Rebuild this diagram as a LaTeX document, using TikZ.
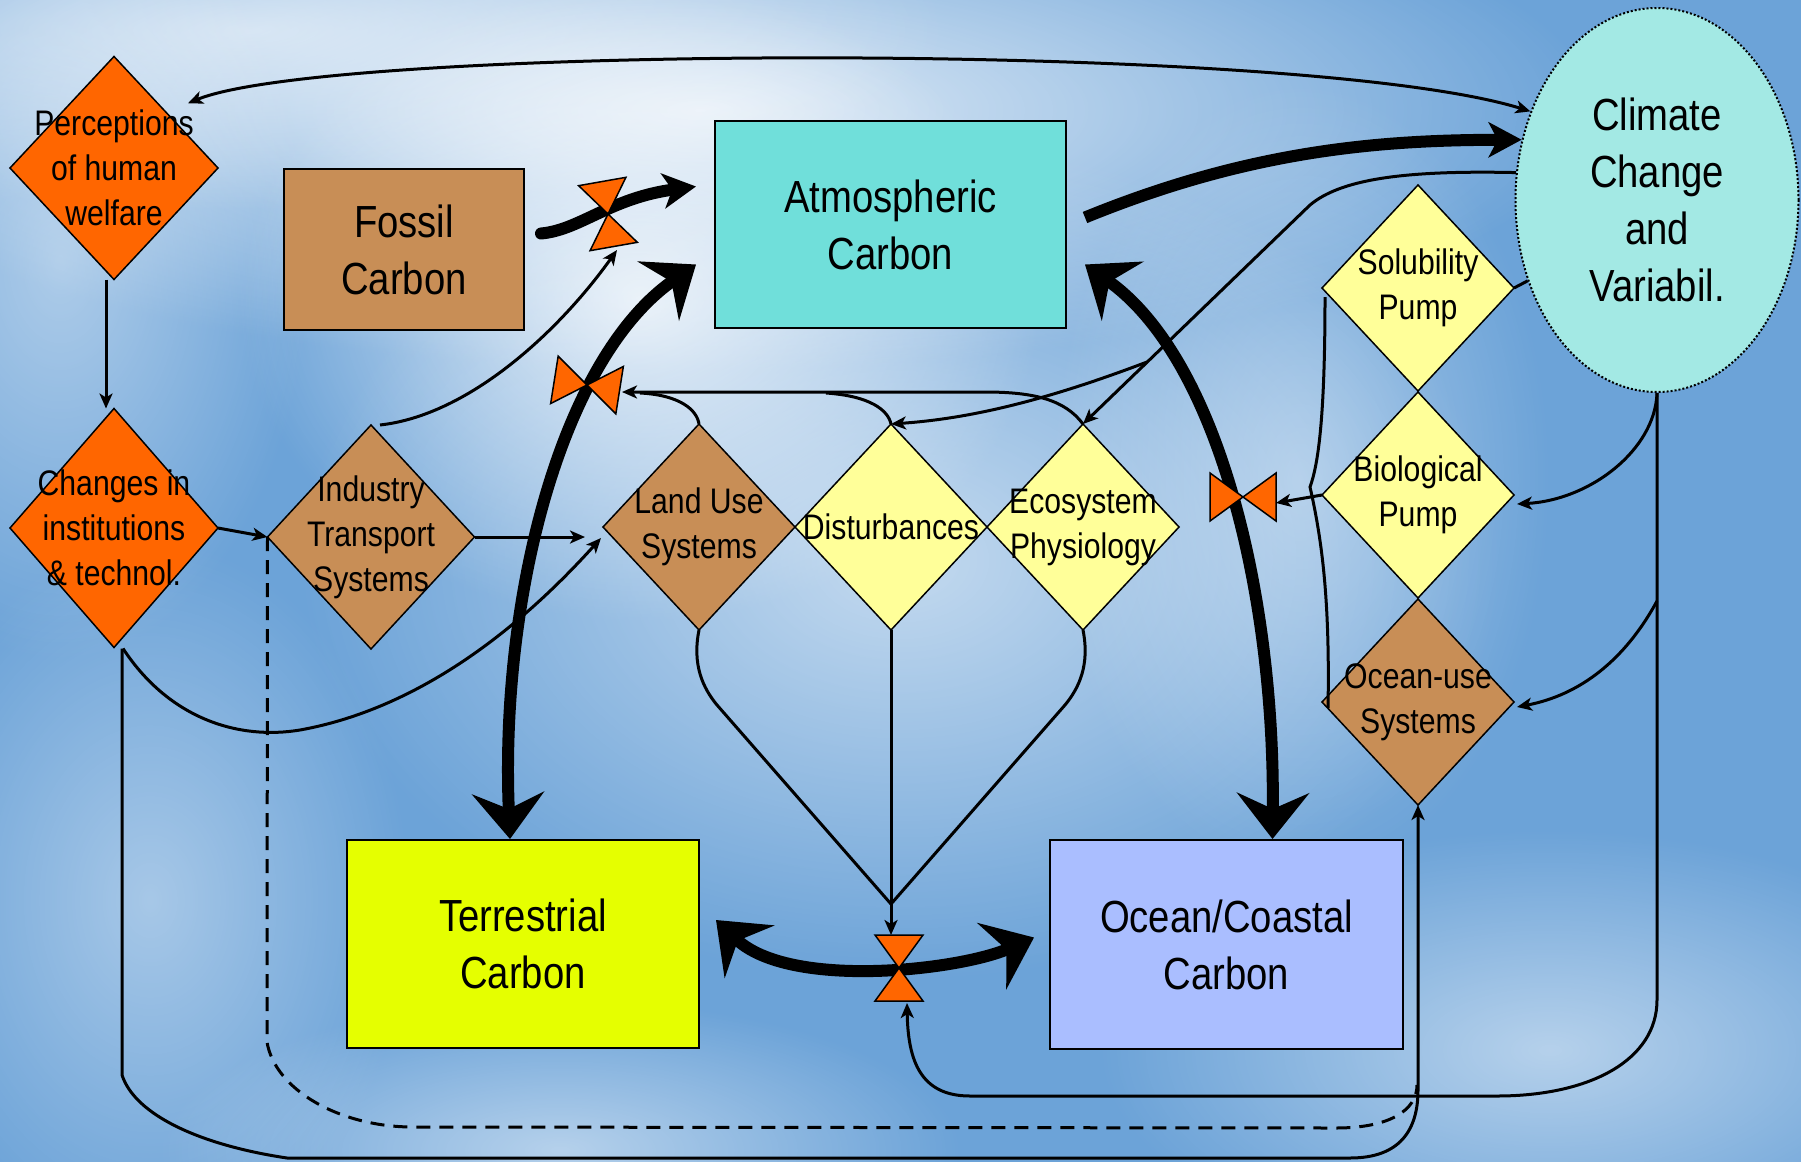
\documentclass[tikz,border=0pt]{standalone}
\usepackage{fontspec}
\setmainfont{Liberation Sans}[FakeStretch=0.85]
\usetikzlibrary{arrows.meta, shapes.geometric, calc, fadings}

\definecolor{sky}{RGB}{108,163,216}
\definecolor{orng}{RGB}{255,102,0}
\definecolor{brownish}{RGB}{200,142,86}
\definecolor{lemon}{RGB}{255,255,153}
\definecolor{atmcol}{RGB}{112,223,218}
\definecolor{climcol}{RGB}{163,233,228}
\definecolor{tercol}{RGB}{229,255,0}
\definecolor{ocecol}{RGB}{170,190,255}

\newcommand\boxfont{\fontsize{45}{57}\selectfont}
\newcommand\diafont{\fontsize{35.5}{45}\selectfont}

\tikzfading[name=puff, inner color=transparent!0, outer color=transparent!100]

\tikzset{
  tipS/.tip={Stealth[length=15pt, width=13pt, inset=4pt]},
  tipM/.tip={Stealth[length=33pt, width=35pt, inset=9pt]},
  tipL/.tip={Stealth[length=46pt, width=72pt, inset=16pt]},
  valve/.pic={
    \draw[valvefill] (0,0) -- (-24,-33) -- (24,-33) -- cycle;
    \draw[valvefill] (0,0) -- (-24,33) -- (24,33) -- cycle;
  }
}

\begin{document}
\begin{tikzpicture}[x=1pt, y=-1pt,
  box/.style={rectangle, draw, line width=2pt, inner sep=0pt, align=center, font=\boxfont},
  dia/.style={diamond, draw, line width=1.5pt, inner sep=0pt, outer sep=0pt, minimum width=192pt, minimum height=206pt},
  dlab/.style={align=center, font=\diafont, inner sep=0pt},
  valvefill/.style={fill=orng, draw=black, line width=1.5pt},
  wire/.style={line width=3pt},
  link/.style={line width=3pt, -{tipS}},
  fat/.style={line width=12pt}
]
\useasboundingbox (0,0) rectangle (1801,1162);

% sky
\begin{scope}
\clip (0,0) rectangle (1801,1162);
\fill[sky] (0,0) rectangle (1801,1162);
\fill[white, path fading=puff, fill opacity=.8] (700,110) ellipse (900 and 260);
\fill[white, path fading=puff, fill opacity=.6] (250,30) ellipse (700 and 180);
\fill[white, path fading=puff, fill opacity=.8] (640,300) ellipse (400 and 320);
\fill[white, path fading=puff, fill opacity=.6] (900,560) ellipse (600 and 420);
\fill[white, path fading=puff, fill opacity=.45] (60,260) ellipse (250 and 400);
\fill[white, path fading=puff, fill opacity=.4] (150,900) ellipse (260 and 360);
\fill[white, path fading=puff, fill opacity=.5] (1550,1050) ellipse (450 and 220);
\fill[white, path fading=puff, fill opacity=.5] (560,1150) ellipse (400 and 150);
\fill[white, path fading=puff, fill opacity=.4] (1300,480) ellipse (250 and 400);
\end{scope}

% carbon pools
\node[box, fill=brownish, minimum width=240pt, minimum height=161pt] (fos) at (404,249.5) {Fossil\\Carbon};
\node[box, fill=atmcol, minimum width=351pt, minimum height=207pt] (atm) at (890.5,224.5) {Atmospheric\\Carbon};
\node[box, fill=tercol, minimum width=352pt, minimum height=208pt] (ter) at (523,944) {Terrestrial\\Carbon};
\node[box, fill=ocecol, minimum width=353pt, minimum height=209pt] (oce) at (1226.5,944.5) {Ocean/Coastal\\Carbon};
\node[ellipse, draw, dotted, line width=2pt, fill=climcol, minimum width=283pt, minimum height=384pt, inner sep=0pt, align=center, font=\boxfont] (clim) at (1657,200) {Climate\\Change\\and\\Variabil.};

% processes
\node[dia, fill=orng, minimum width=208pt, minimum height=223pt, label={[dlab]center:{Perceptions\\of human\\welfare}}] (perc) at (114,168) {};
\node[dia, fill=orng, minimum width=208pt, minimum height=239pt, label={[dlab]center:{Changes in\\institutions\\\& technol.}}] (chg) at (114,528) {};
\node[dia, fill=brownish, minimum width=207pt, minimum height=224pt, label={[dlab]center:{Industry\\Transport\\Systems}}] (ind) at (371,537) {};
\node[dia, fill=brownish, label={[dlab]center:{Land Use\\Systems}}] (land) at (699,527) {};
\node[dia, fill=lemon, label={[dlab]center:{Disturbances}}] (dist) at (891,527) {};
\node[dia, fill=lemon, label={[dlab]center:{Ecosystem\\Physiology}}] (eco) at (1083,527) {};
\node[dia, fill=lemon, label={[dlab]center:{Solubility\\Pump}}] (sol) at (1418,288) {};
\node[dia, fill=lemon, label={[dlab]center:{Biological\\Pump}}] (bio) at (1418,495) {};
\node[dia, fill=brownish, label={[dlab]center:{Ocean-use\\Systems}}] (ocu) at (1418,702) {};

\coordinate (vfos) at (608,214);
\coordinate (vland) at (587,385);
\coordinate (vocn) at (1243,497);
\coordinate (vbot) at (899,968);
\coordinate (brk) at (1147,362);
\coordinate (conv) at ($(dist.south)+(0,274)$);

% human side
\draw[wire, {tipS}-{tipS}] ($(perc.north east)+(22,-9)$) .. controls (330,45) and (1300,40) .. (clim.145);
\draw[link] ([xshift=-8pt]perc.south) -- ([xshift=-8pt]chg.north);
\draw[link] (chg.east) -- (ind.west);
\draw[link] (ind.east) -- ($(land.west)+(-18,10)$);
\draw[link] ($(ind.north)+(9,0)$) .. controls (470,415) and (560,330) .. ($(vfos)+(9,36)$);
\draw[link] ($(chg.south)+(9,1)$) .. controls (170,720) and (240,740) .. (300,730) .. controls (400,712) and (500,650) .. ($(land.west)+(-2,11)$);
\draw[link] ($(chg.south)+(8,1)$) -- (122,1075) .. controls (135,1115) and (200,1145) .. (287,1158) -- (1350,1158) .. controls (1400,1158) and (1418,1130) .. (1418,1090) -- (ocu.south);
\draw[wire, dash pattern=on 14pt off 9pt] (ind.west) -- (267,1042) .. controls (275,1090) and (340,1127) .. (413,1127) -- (1336,1128) .. controls (1390,1128) and (1417,1110) .. (1417,1085);

% climate feedbacks
\draw[link] (clim.south) -- (1657,1000) .. controls (1657,1060) and (1590,1096) .. (1497,1096) -- (970,1096) .. controls (920,1096) and (908,1060) .. ($(vbot)+(8,35)$);
\draw[link] (clim.south) .. controls (1655,450) and (1590,500) .. ($(bio.east)+(3,9)$);
\draw[link] ($(clim.south)+(0,208)$) .. controls (1625,660) and (1580,695) .. ($(ocu.east)+(3,5)$);
\draw[wire] (sol.east) -- (clim.212);
\draw[wire] ($(sol.west)+(3,9)$) .. controls (1325,420) and (1318,465) .. (1310,487) .. controls (1322,540) and (1330,600) .. ($(ocu.west)+(6,6)$);
\draw[link] (bio.west) -- ($(vocn)+(33,6)$);
\draw[link] (clim.169) .. controls (1400,170) and (1340,180) .. (1310,205) -- (eco.north);
\draw[link] (brk) .. controls (1060,395) and (980,418) .. (dist.north);

% land controls
\draw[link] (eco.north) .. controls (1065,400) and (1035,392) .. (985,392) -- ($(vland)+(35,7)$);
\draw[wire] (land.north) .. controls (697,410) and (680,395) .. (640,393);
\draw[wire] (dist.north) .. controls (888,410) and (870,396) .. (826,393);
\draw[wire] (land.south) .. controls (692,665) and (703,688) .. (717,705) -- (conv);
\draw[wire] (eco.south) .. controls (1090,665) and (1079,688) .. (1065,705) -- (conv);
\draw[link] (dist.south) -- ($(vbot)+(-8,-33)$);

% carbon fluxes
\draw[fat, {tipL}-{tipL}] ($(atm.west)+(-18,40)$) .. controls (560,360) and (500,600) .. ($(ter.north)+(-13,0)$);
\draw[fat, {tipL}-{tipL}] ($(atm.east)+(18,40)$) .. controls (1220,360) and (1275,600) .. ($(oce.north)+(46,0)$);
\draw[fat, line cap=round, -{tipM}] ($(fos.east)+(16,-16)$) .. controls (580,230) and (610,198) .. ($(atm.west)+(-18,-38)$);
\draw[fat, -{tipM}] ($(atm.east)+(18,-7)$) .. controls (1250,150) and (1380,140) .. (clim.156);
\draw[fat, {tipL}-{tipL}] ($(ter.east)+(16,-24)$) .. controls (790,990) and (960,970) .. ($(oce.west)+(-15,-7)$);

% valves
\pic[rotate=10] at (vfos) {valve};
\pic[rotate=81] at (vland) {valve};
\pic[rotate=90] at (vocn) {valve};
\pic at (vbot) {valve};
\end{tikzpicture}
\end{document}
